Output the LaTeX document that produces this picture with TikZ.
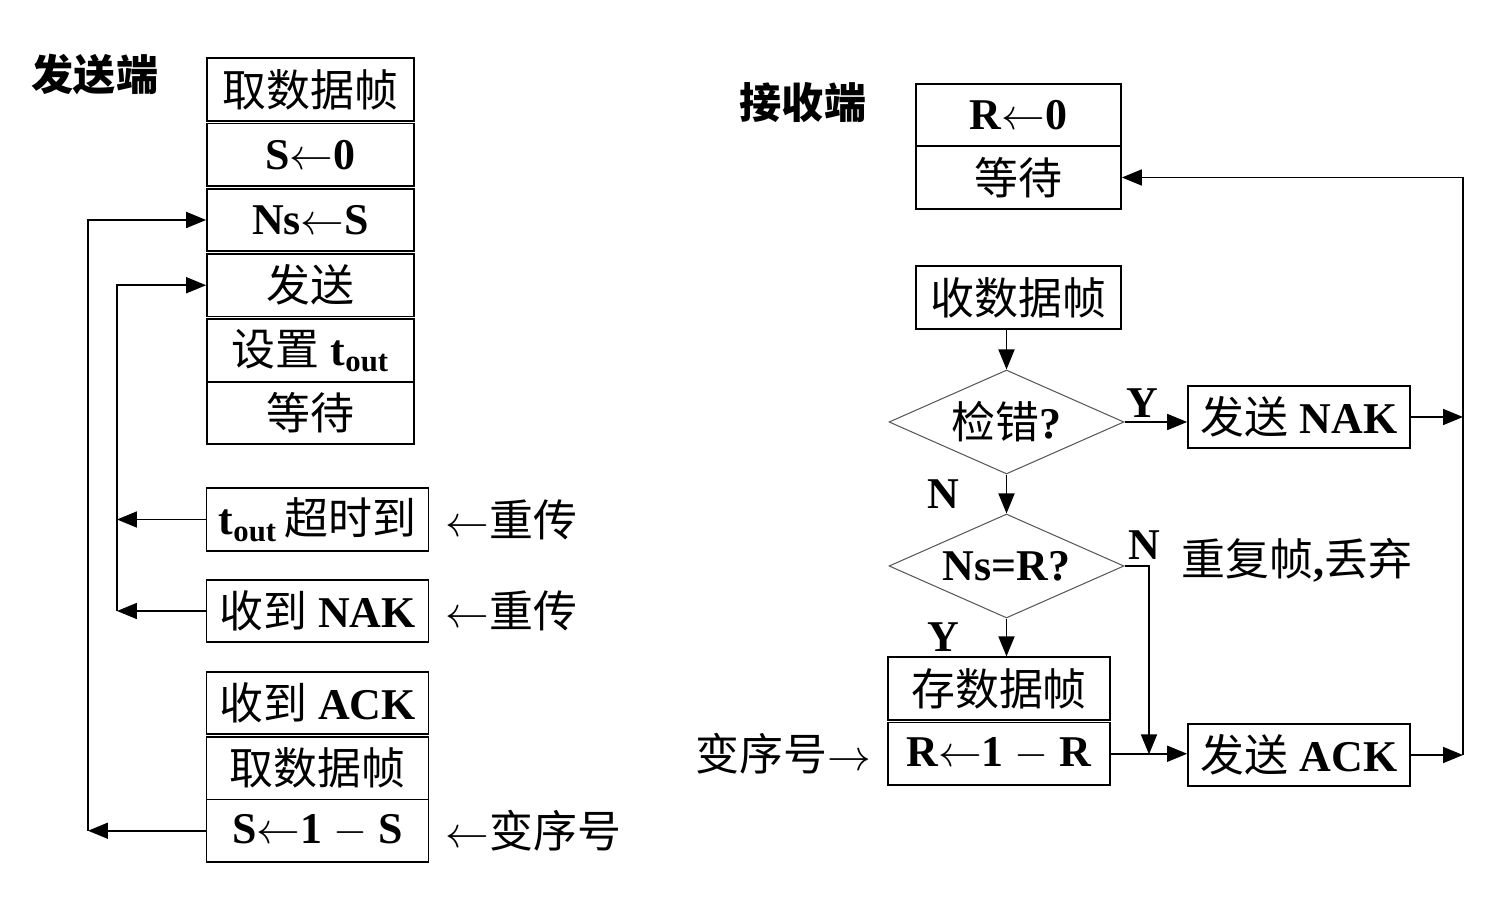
\documentclass[tikz,border=0pt]{standalone}
\usepackage{fontspec}
\setmainfont{Liberation Serif}
\newfontfamily\cjkfont{Noto Sans CJK SC}
\usetikzlibrary{positioning, shapes.geometric, arrows.meta, calc}
\newcommand{\zh}[1]{{\cjkfont\mdseries #1}}

\begin{document}
\begin{tikzpicture}[
    x=0.02cm, y=-0.02cm,
    node distance=0.02cm,
    >={Triangle[length=0.4cm, width=0.32cm]},
    box/.style={draw, line width=1pt, minimum width=4.14cm, minimum height=1.25cm, inner sep=1pt, font=\fontsize{25}{29}\selectfont\bfseries},
    wbox/.style={box, minimum width=4.44cm},
    decision/.style={diamond, draw=black!65, line width=0.6pt, minimum width=4.7cm, minimum height=2.08cm, shape aspect=2.26, inner sep=0pt, font=\fontsize{25}{29}\selectfont\bfseries},
    lbl/.style={font=\fontsize{25}{29}\selectfont\bfseries, inner sep=2pt},
    title/.style={font=\fontsize{24}{28}\selectfont\cjkfont\bfseries},
    conn/.style={line width=1pt}
  ]
    \useasboundingbox (0,0) rectangle (1500,915);
    % sender
    \node[title] (stitle) at (95,75) {发送端};
    \node[box] (getf) at (310.5,89.5) {\zh{取数据帧}};
    \node[box, below=of getf] (sinit) {S$\leftarrow$0};
    \node[box, below=of sinit] (setns) {Ns$\leftarrow$S};
    \node[box, below=of setns] (send) {\zh{发送}};
    \node[box, below=of send] (timer) {\zh{设置} t\textsubscript{out}};
    \node[box, below=-0.035cm of timer] (swait) {\zh{等待}};
    \node[wbox] (tout) at (317.5,519.5) {t\textsubscript{out}\,\zh{超时到}};
    \node[wbox] (gotnak) at (317.5,611) {\zh{收到} NAK};
    \node[wbox] (gotack) at (317.5,703) {\zh{收到} ACK};
    \node[wbox, below=of gotack] (getnext) {\zh{取数据帧}};
    \node[wbox, below=-0.035cm of getnext] (flips) {S$\leftarrow$1 $-$ S};
    \node[lbl, right=0.25cm of tout] (retx1) {$\leftarrow$\zh{重传}};
    \node[lbl, right=0.25cm of gotnak] (retx2) {$\leftarrow$\zh{重传}};
    \node[lbl, right=0.25cm of flips] (seqs) {$\leftarrow$\zh{变序号}};
    \coordinate (outer) at (88,0);
    \coordinate (inner) at (117,0);
    \draw[conn, ->] (tout.west) -- (tout.west -| inner);
    \draw[conn, ->] (gotnak.west) -- (gotnak.west -| inner);
    \draw[conn, ->] (gotnak.west -| inner) |- (send.west);
    \draw[conn, ->] (flips.west) -- (flips.west -| outer);
    \draw[conn, ->] (flips.west -| outer) |- (setns.west);
    % receiver
    \node[title] (rtitle) at (803,103) {接收端};
    \node[box, minimum width=4.1cm] (rinit) at (1018.5,115) {R$\leftarrow$0};
    \node[box, minimum width=4.1cm, below=-0.035cm of rinit] (rwait) {\zh{等待}};
    \node[box, minimum width=4.1cm] (recv) at (1018.5,297.5) {\zh{收数据帧}};
    \node[decision] (chk) at (1006.5,422) {\zh{检错}?};
    \node[wbox] (sendnak) at (1299,417) {\zh{发送} NAK};
    \node[decision] (seq) at (1006.5,566) {Ns=R?};
    \node[wbox] (store) at (999,688.5) {\zh{存数据帧}};
    \node[wbox, below=of store] (flipr) {R$\leftarrow$1 $-$ R};
    \node[wbox] (sendack) at (1299,755) {\zh{发送} ACK};
    \node[lbl, left=0.25cm of flipr] (seqr) {\zh{变序号}$\rightarrow$};
    \node[lbl, anchor=west] (dup) at (1178,560) {\zh{重复帧},\zh{丢弃}};
    \node[lbl, above right=0.05cm and 0cm of seq.east] (nlbl) {N};
    \coordinate (join) at ($(flipr.east)!0.5!(sendack.west)$);
    \coordinate (rside) at (1463,0);
    \draw[conn, ->] (chk.north |- recv.south) -- (chk.north);
    \draw[conn, ->] (chk.east) -- node[lbl, above, pos=0.28] {Y} (chk.east -| sendnak.west);
    \draw[conn, ->] (chk.south) -- node[lbl, left=0.85cm] {N} (seq.north);
    \draw[conn, ->] (seq.south) -- node[lbl, left=0.85cm] {Y} (seq.south |- store.north);
    \draw[conn, ->] (flipr.east) -- (flipr.east -| sendack.west);
    \draw[conn, ->] (seq.east) -| (join);
    \draw[conn, ->] (sendnak.east) -- (sendnak.east -| rside);
    \draw[conn, ->] (sendack.east) -- (sendack.east -| rside);
    \draw[conn, ->] (sendack.east -| rside) |- (rwait.east);
  \end{tikzpicture}
\end{document}
